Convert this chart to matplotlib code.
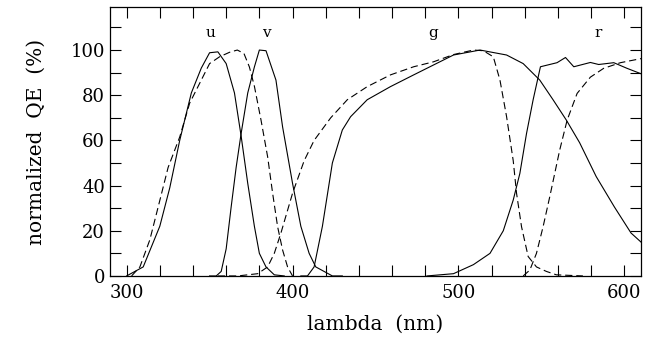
import numpy as np
import matplotlib
matplotlib.use('Agg')
import matplotlib.pyplot as plt
from matplotlib.ticker import MultipleLocator

# solid curves
u_wl = [300, 305, 310, 315, 320, 326, 332, 339, 345, 350, 355, 360, 365, 369, 373, 377, 380, 384, 389, 395]
u_qe = [0, 2, 4, 13, 22, 39, 60, 81, 92, 98.8, 99.2, 94, 81, 62, 41, 22, 10, 4, 0.5, 0]

v_wl = [350, 354, 357, 360, 363, 366, 369, 373, 377, 380, 384, 390, 394, 400, 405, 410, 414, 419, 424, 430]
v_qe = [0, 0, 2, 12, 30.5, 48, 63, 81, 92.5, 100, 99.7, 86.7, 66, 41, 22, 10, 4, 2, 0, 0]

g_wl = [405, 409, 413, 418, 424, 430, 435, 445, 459, 473, 485, 497, 513, 529, 539, 549, 557, 565, 573, 583, 594, 604, 610]
g_qe = [0, 0, 4, 22, 50, 64.6, 70.5, 78, 83.8, 89, 93.4, 97.8, 100, 97.8, 94, 86.7, 78, 69, 59, 44, 30.5, 19, 15]

r_wl = [481, 497, 509, 519, 527, 533, 537, 541, 545, 549.4, 559.4, 564.5, 569.5, 579.5, 584.5, 593.6, 601.6, 610]
r_qe = [0, 1, 5, 10, 20, 33.6, 45.4, 63, 78, 92.6, 94.4, 96.7, 92.6, 94.5, 93.6, 94.4, 91.9, 89.5]

# dashed curves
ud_wl = [303, 308, 314, 319, 325, 332, 338, 345, 350, 356, 362, 366.7, 370.7, 374, 377, 381, 385, 388, 391, 394, 397, 400]
ud_qe = [0, 4, 16, 30.5, 48, 61.5, 76.5, 86.7, 94, 97, 99, 100, 98.5, 92.5, 84, 69, 52.7, 36.6, 21.8, 11.5, 4, 0]

gd_wl = [355, 367, 379, 385, 389, 393, 400, 407, 413, 423, 433, 445, 459, 473, 485, 497, 509, 515, 521, 525, 529, 533, 535, 538, 542, 547, 553, 559, 575]
gd_qe = [0, 0, 1, 4, 10, 19, 36.6, 51, 60, 70, 78, 83.8, 89, 92.6, 94.8, 98, 100, 99.7, 97, 86.7, 70.5, 51, 36.6, 21.8, 8.6, 4, 2, 0.5, 0]

rd_wl = [539, 543, 547, 551, 555, 561, 565.5, 571.5, 579.5, 587.5, 597.6, 610]
rd_qe = [0, 2.6, 10, 21.8, 35, 55.7, 69, 80.8, 88, 91.9, 94.4, 96.2]

band_names = ['u', 'v', 'g', 'r']
band_pos = [350.5, 384.5, 485, 584]

plt.rcParams['font.family'] = ['DejaVu Serif']
fig = plt.figure(figsize=(6.6, 3.39), dpi=100)
ax = fig.add_axes([0.1667, 0.186, 0.8045, 0.793])

for wl, qe in [(u_wl, u_qe), (v_wl, v_qe), (g_wl, g_qe), (r_wl, r_qe)]:
    ax.plot(wl, qe, color='black', lw=0.8)
for wl, qe in [(ud_wl, ud_qe), (gd_wl, gd_qe), (rd_wl, rd_qe)]:
    ax.plot(wl, qe, color='black', lw=0.8, dashes=(6.5, 3.5))

for name, pos in zip(band_names, band_pos):
    ax.text(pos, 107.5, name, ha='center', va='center', fontsize=11)

ax.set_xlim(290, 610)
ax.set_ylim(0, 119)
ax.xaxis.set_major_locator(MultipleLocator(100))
ax.xaxis.set_minor_locator(MultipleLocator(20))
ax.yaxis.set_major_locator(MultipleLocator(20))
ax.yaxis.set_minor_locator(MultipleLocator(10))
ax.tick_params(which='both', direction='in', top=True, right=True, length=8, width=0.8, labelsize=13)
ax.tick_params(axis='x', pad=6)
for s in ax.spines.values():
    s.set_linewidth(0.9)

ax.set_xlabel('lambda  (nm)', fontsize=14.5, labelpad=9)
ax.set_ylabel('normalized  QE  (%)', fontsize=14.5, labelpad=18)

fig.savefig('out.png', dpi=100)
